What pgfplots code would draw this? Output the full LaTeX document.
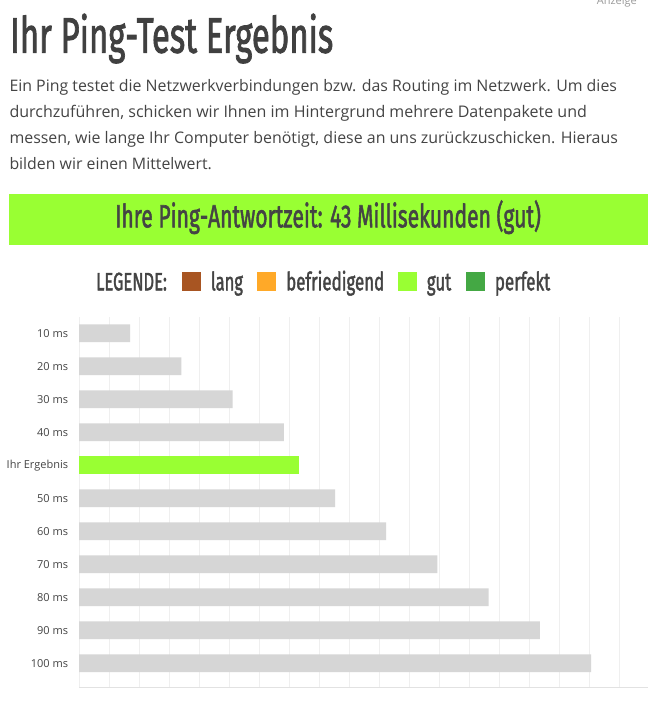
\documentclass[border=0pt]{standalone}
\usepackage{fontspec}
\usepackage{graphicx}
\usepackage{pgfplots}
\pgfplotsset{compat=1.18}
\setmainfont{Open Sans}
\newfontfamily\osw[FakeBold=2]{Fira Sans}
\definecolor{txt}{HTML}{444444}
\definecolor{titlec}{HTML}{404040}
\definecolor{bannerg}{HTML}{99FF33}
\definecolor{barg}{HTML}{D6D6D6}
\definecolor{gridc}{HTML}{EFEFEF}
\definecolor{axisc}{HTML}{E2E2E2}
\definecolor{langc}{HTML}{A85522}
\definecolor{befc}{HTML}{FFA928}
\definecolor{perfc}{HTML}{44A844}
\newcommand{\fitcap}[3]{\resizebox{#1}{#2}{\vphantom{I}\smash{#3}}}
\begin{document}
\begin{tikzpicture}
\fill[white] (0,0) rectangle (659pt,-703pt);
\path[use as bounding box] (0,0) rectangle (659pt,-703pt);
% Anzeige
\node[anchor=base east, inner sep=0pt, text=gray!80] at (637pt,-4.5pt) {\fontsize{11}{13}\selectfont Anzeige};
% title
\node[anchor=base west, inner sep=0pt, text=titlec] at (10pt,-52.7pt) {\osw\fitcap{323pt}{34.4pt}{Ihr Ping-Test Ergebnis}};
% paragraph
\node[anchor=base west, inner sep=0pt, text=txt] at (9.3pt,-91.5pt) {\fontsize{16}{20}\selectfont\resizebox{607.4pt}{!}{Ein Ping testet die Netzwerkverbindungen bzw. das Routing im Netzwerk. Um dies}};
\node[anchor=base west, inner sep=0pt, text=txt] at (9.3pt,-117.5pt) {\fontsize{16}{20}\selectfont\resizebox{577.4pt}{!}{durchzuführen, schicken wir Ihnen im Hintergrund mehrere Datenpakete und}};
\node[anchor=base west, inner sep=0pt, text=txt] at (9.3pt,-143.5pt) {\fontsize{16}{20}\selectfont\resizebox{608.4pt}{!}{messen, wie lange Ihr Computer benötigt, diese an uns zurückzuschicken. Hieraus}};
\node[anchor=base west, inner sep=0pt, text=txt] at (9.3pt,-169.5pt) {\fontsize{16}{20}\selectfont\resizebox{202.4pt}{!}{bilden wir einen Mittelwert.}};
% banner
\fill[bannerg] (9pt,-194pt) rectangle (648pt,-244.7pt);
\node[anchor=base west, inner sep=0pt, text=txt] at (115pt,-227.3pt) {\osw\fitcap{425.7pt}{22pt}{Ihre Ping-Antwortzeit: 43 Millisekunden (gut)}};
% legend
\node[anchor=base west, inner sep=0pt, text=txt] at (96pt,-290.3pt) {\osw\fitcap{70.7pt}{17.3pt}{LEGENDE:}};
\fill[langc] (182.3pt,-272pt) rectangle (201pt,-291pt);
\node[anchor=base west, inner sep=0pt, text=txt] at (210.7pt,-290.3pt) {\osw\fitcap{32pt}{17.3pt}{lang}};
\fill[befc] (257.3pt,-272pt) rectangle (276pt,-291pt);
\node[anchor=base west, inner sep=0pt, text=txt] at (286pt,-290.3pt) {\osw\fitcap{98pt}{17.3pt}{befriedigend}};
\fill[bannerg] (398.3pt,-272pt) rectangle (417pt,-291pt);
\node[anchor=base west, inner sep=0pt, text=txt] at (426.7pt,-290.3pt) {\osw\fitcap{24.3pt}{17.3pt}{gut}};
\fill[perfc] (466pt,-272pt) rectangle (485pt,-291pt);
\node[anchor=base west, inner sep=0pt, text=txt] at (494.7pt,-290.3pt) {\osw\fitcap{55.3pt}{17.3pt}{perfekt}};
% chart
\begin{axis}[
  at={(79pt,-687.3pt)}, anchor=south west,
  scale only axis, width=569pt, height=370pt,
  xmin=0, xmax=111.133, ymin=-0.727, ymax=10.485,
  xbar, bar width=17.7pt,
  xtick={0,5.8594,...,106}, xticklabels={},
  xmajorgrids, grid style={draw=gridc, line width=1pt},
  major tick length=0pt,
  axis line style={draw=none},
  ytick={0,...,10},
  yticklabels={100 ms,90 ms,80 ms,70 ms,60 ms,50 ms,Ihr Ergebnis,40 ms,30 ms,20 ms,10 ms},
  yticklabel style={font=\fontsize{11}{13}\selectfont, text=txt, anchor=east, inner sep=0pt, xshift=-10.7pt},
  clip=false,
]
\addplot[fill=barg, draw=none, bar shift=0pt] coordinates {(10,10) (20,9) (30,8) (40,7) (50,5) (60,4) (70,3) (80,2) (90,1) (100,0)};
\addplot[fill=bannerg, draw=none, bar shift=0pt] coordinates {(43,6)};
\draw[axisc, line width=1pt] (axis cs:0,-0.727) -- (axis cs:111.133,-0.727);
\end{axis}
\end{tikzpicture}
\end{document}
